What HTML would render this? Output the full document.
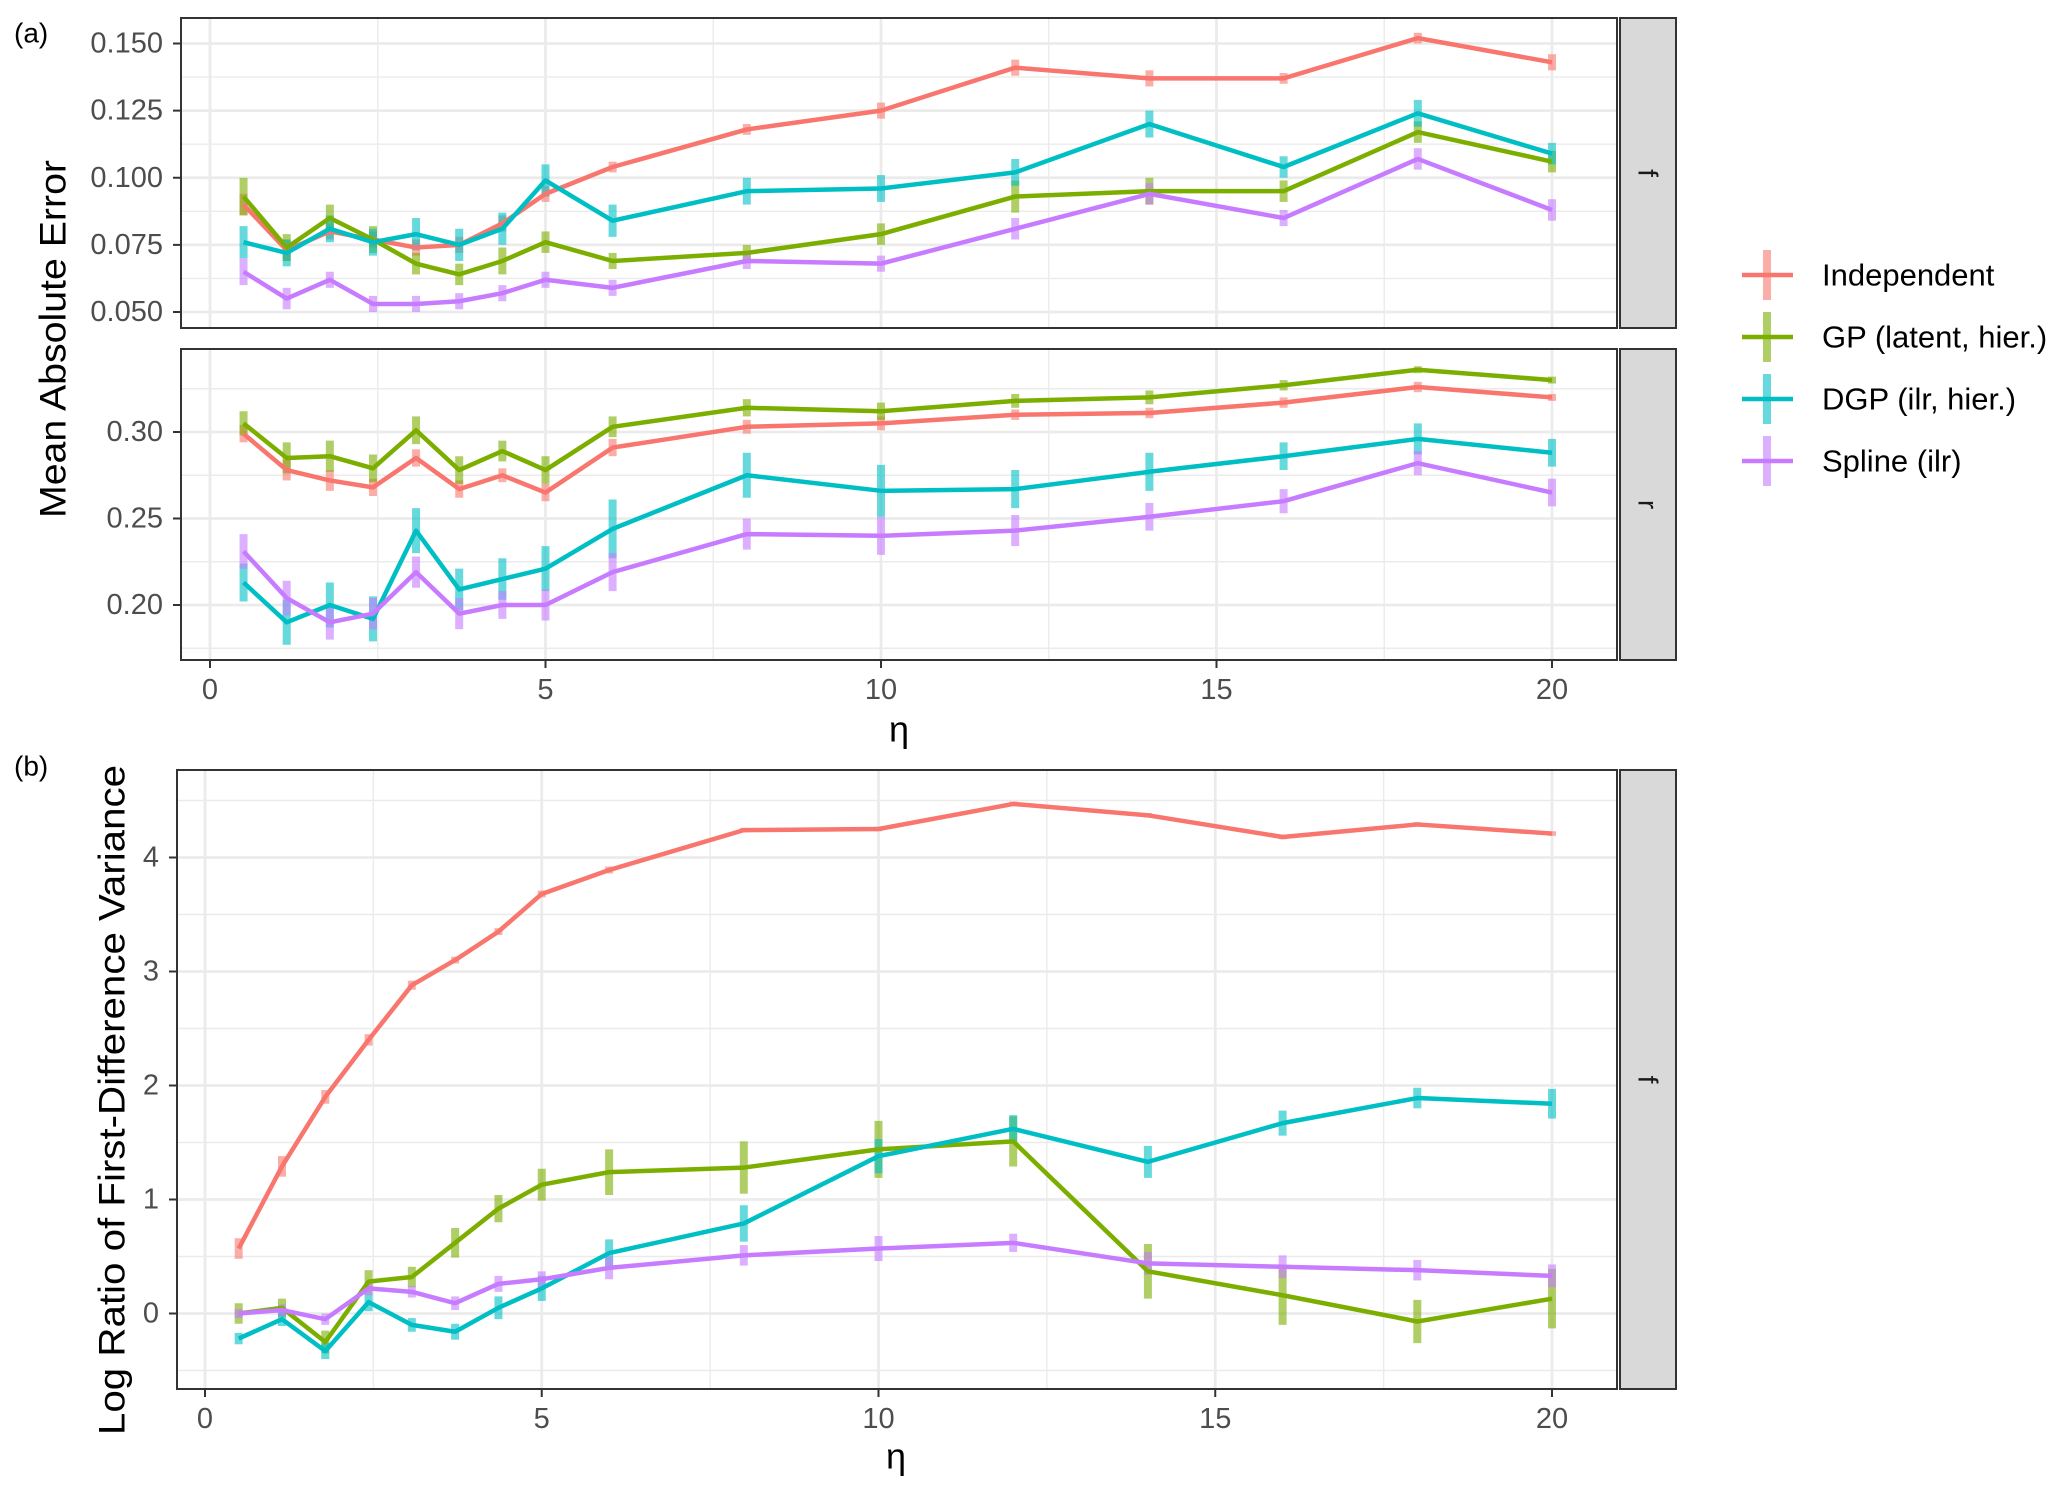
<!DOCTYPE html>
<html><head><meta charset="utf-8"><style>
html,body{margin:0;padding:0;background:#fff;}
svg{display:block;font-family:"Liberation Sans",sans-serif;}
</style></head><body>
<svg id="chart" width="2067" height="1490" viewBox="0 0 2067 1490" xmlns="http://www.w3.org/2000/svg"></svg>
<script>
const etaValues=[0.5,1.143,1.786,2.429,3.071,3.714,4.357,5,6,8,10,12,14,16,18,20];
const seriesNames=["Independent","GP (latent, hier.)","DGP (ilr, hier.)","Spline (ilr)"];
const seriesColors=["#F8766D","#7CAE00","#00BFC4","#C77CFF"];
// panel a, f
const fIndep=[0.090,0.073,0.080,0.077,0.074,0.075,0.083,0.094,0.104,0.118,0.125,0.141,0.137,0.137,0.152,0.143];
const fGP=[0.093,0.074,0.085,0.077,0.068,0.064,0.069,0.076,0.069,0.072,0.079,0.093,0.095,0.095,0.117,0.106];
const fDGP=[0.076,0.072,0.081,0.076,0.079,0.075,0.081,0.099,0.084,0.095,0.096,0.102,0.120,0.104,0.124,0.109];
const fSpline=[0.065,0.055,0.062,0.053,0.053,0.054,0.057,0.062,0.059,0.069,0.068,0.081,0.094,0.085,0.107,0.088];
const fErrIndep=[0.004,0.004,0.003,0.003,0.003,0.003,0.003,0.003,0.002,0.002,0.003,0.003,0.003,0.002,0.002,0.003];
const fErrGP=[0.007,0.005,0.005,0.005,0.004,0.004,0.005,0.004,0.003,0.003,0.004,0.006,0.005,0.004,0.004,0.004];
const fErrDGP=[0.006,0.005,0.005,0.005,0.006,0.006,0.006,0.006,0.006,0.005,0.005,0.005,0.005,0.004,0.005,0.004];
const fErrSpline=[0.005,0.004,0.003,0.003,0.003,0.003,0.003,0.003,0.003,0.003,0.003,0.004,0.004,0.003,0.004,0.004];
// panel a, r
const rIndep=[0.299,0.278,0.272,0.268,0.285,0.267,0.275,0.265,0.291,0.303,0.305,0.310,0.311,0.317,0.326,0.320];
const rGP=[0.305,0.285,0.286,0.279,0.301,0.278,0.289,0.278,0.303,0.314,0.312,0.318,0.320,0.327,0.336,0.330];
const rDGP=[0.213,0.190,0.200,0.192,0.243,0.209,0.215,0.221,0.244,0.275,0.266,0.267,0.277,0.286,0.296,0.288];
const rSpline=[0.231,0.204,0.190,0.195,0.219,0.195,0.200,0.200,0.219,0.241,0.240,0.243,0.251,0.260,0.282,0.265];
const rErrIndep=[0.005,0.006,0.006,0.005,0.005,0.005,0.004,0.005,0.005,0.004,0.004,0.003,0.003,0.003,0.003,0.002];
const rErrGP=[0.007,0.009,0.009,0.008,0.008,0.008,0.006,0.008,0.006,0.005,0.005,0.004,0.004,0.003,0.002,0.002];
const rErrDGP=[0.011,0.013,0.013,0.013,0.013,0.012,0.012,0.013,0.017,0.013,0.015,0.011,0.011,0.008,0.009,0.008];
const rErrSpline=[0.010,0.010,0.010,0.009,0.009,0.009,0.008,0.009,0.011,0.009,0.011,0.009,0.008,0.007,0.007,0.008];
// panel b
const bIndep=[0.57,1.29,1.90,2.40,2.88,3.10,3.35,3.68,3.89,4.24,4.25,4.47,4.37,4.18,4.29,4.21];
const bGP=[0.00,0.05,-0.25,0.28,0.32,0.62,0.92,1.13,1.24,1.28,1.44,1.51,0.37,0.16,-0.07,0.13];
const bDGP=[-0.22,-0.05,-0.33,0.10,-0.10,-0.16,0.05,0.22,0.53,0.79,1.38,1.62,1.33,1.67,1.89,1.84];
const bSpline=[0.00,0.03,-0.05,0.22,0.19,0.09,0.26,0.30,0.40,0.51,0.57,0.62,0.44,0.41,0.38,0.33];
const bErrIndep=[0.09,0.09,0.06,0.05,0.04,0.03,0.03,0.03,0.03,0.02,0.02,0.02,0.02,0.02,0.02,0.02];
const bErrGP=[0.09,0.08,0.10,0.10,0.09,0.13,0.12,0.14,0.20,0.23,0.25,0.22,0.24,0.26,0.19,0.26];
const bErrDGP=[0.05,0.06,0.07,0.08,0.06,0.07,0.10,0.11,0.12,0.16,0.15,0.12,0.14,0.11,0.09,0.13];
const bErrSpline=[0.04,0.05,0.05,0.06,0.05,0.06,0.07,0.07,0.10,0.09,0.11,0.08,0.10,0.10,0.09,0.10];
const xTicks=[0,5,10,15,20];
const fTicks=[0.050,0.075,0.100,0.125,0.150];
const fTickLabels=["0.050","0.075","0.100","0.125","0.150"];
const rTicks=[0.20,0.25,0.30];
const rTickLabels=["0.20","0.25","0.30"];
const bTicks=[0,1,2,3,4];
const bTickLabels=["0","1","2","3","4"];

const NS="http://www.w3.org/2000/svg";
const svg=document.getElementById('chart');
function mk(tag,attrs,parent,text){const e=document.createElementNS(NS,tag);for(const k in attrs)e.setAttribute(k,attrs[k]);if(text!==undefined)e.textContent=text;(parent||svg).appendChild(e);return e;}

function panel(o){
  const g=mk('g',{});
  
  
  const xs=v=>o.x0+(v-0)*(o.x20-o.x0)/20;
  const ys=v=>o.yA+(v-o.vA)*(o.yB-o.yA)/(o.vB-o.vA);
  const vTop=o.vA+(o.top-o.yA)*(o.vB-o.vA)/(o.yB-o.yA);
  mk('rect',{x:o.left,y:o.top,width:o.right-o.left,height:o.bottom-o.top,fill:'#fff'},g);
  const step=o.ticks[1]-o.ticks[0];
  for(let v=o.ticks[0]-step*3;v<=vTop+step;v+=step/2){
    const y=ys(v); if(y<o.top||y>o.bottom)continue;
    const major=o.ticks.some(t=>Math.abs(t-v)<1e-9);
    mk('line',{x1:o.left,x2:o.right,y1:y,y2:y,stroke:'#ebebeb','stroke-width':major?2.8:1.4},g);
  }
  for(let v=-2.5;v<=22.5;v+=2.5){
    const x=xs(v); if(x<o.left||x>o.right)continue;
    const major=Math.abs(v%5)<1e-9;
    mk('line',{x1:x,x2:x,y1:o.top,y2:o.bottom,stroke:'#ebebeb','stroke-width':major?2.8:1.4},g);
  }
  o.series.forEach((s,i)=>{
    s.vals.forEach((v,j)=>{
      const b=mk('line',{x1:xs(etaValues[j]),x2:xs(etaValues[j]),y1:ys(v-s.err[j]),y2:ys(v+s.err[j]),stroke:seriesColors[i],'stroke-width':8,'stroke-opacity':0.6},g);
      
      
    });
  });
  o.series.forEach((s,i)=>{
    const p=mk('polyline',{points:s.vals.map((v,j)=>xs(etaValues[j])+','+ys(v)).join(' '),fill:'none',stroke:seriesColors[i],'stroke-width':4.5,'stroke-linejoin':'round'},g);
    
    
  });
  mk('rect',{x:o.left,y:o.top,width:o.right-o.left,height:o.bottom-o.top,fill:'none',stroke:'#333','stroke-width':2},g);
  const st=mk('rect',{x:o.right+3,y:o.top,width:56,height:o.bottom-o.top,fill:'#d9d9d9',stroke:'#333','stroke-width':2},g);
  
  
  const cx=o.right+31,cy=(o.top+o.bottom)/2;
  const stx=mk('text',{x:cx,y:cy,'font-size':28,fill:'#1a1a1a','text-anchor':'middle','dominant-baseline':'central',transform:`rotate(90 ${cx} ${cy})`},g,o.strip);
  
  
  o.ticks.forEach((t,i)=>{
    const y=ys(t);
    mk('line',{x1:o.left-8,x2:o.left,y1:y,y2:y,stroke:'#333','stroke-width':2},g);
    const tl=mk('text',{x:o.left-18,y:y,'font-size':29,fill:'#4d4d4d','text-anchor':'end','dominant-baseline':'central'},g,o.tickLabels[i]);
    
    
  });
  if(o.xAxis){
    xTicks.forEach(t=>{
      const x=xs(t);
      mk('line',{x1:x,x2:x,y1:o.bottom,y2:o.bottom+8,stroke:'#333','stroke-width':2},g);
      const tl=mk('text',{x:x,y:o.bottom+30,'font-size':29,fill:'#4d4d4d','text-anchor':'middle','dominant-baseline':'central'},g,String(t));
      
      
    });
  }
}

panel({name:'panel-a-f',left:181,right:1617,top:18,bottom:328,x0:210,x20:1552,vA:0.150,yA:43.5,vB:0.050,yB:312,ticks:fTicks,tickLabels:fTickLabels,strip:'f',xAxis:false,
  series:[{vals:fIndep,err:fErrIndep},{vals:fGP,err:fErrGP},{vals:fDGP,err:fErrDGP},{vals:fSpline,err:fErrSpline}]});
panel({name:'panel-a-r',left:181,right:1617,top:349,bottom:660,x0:210,x20:1552,vA:0.30,yA:432,vB:0.20,yB:605,ticks:rTicks,tickLabels:rTickLabels,strip:'r',xAxis:true,
  series:[{vals:rIndep,err:rErrIndep},{vals:rGP,err:rErrGP},{vals:rDGP,err:rErrDGP},{vals:rSpline,err:rErrSpline}]});
panel({name:'panel-b',left:177,right:1617,top:770,bottom:1389,x0:205,x20:1552,vA:0,yA:1313.5,vB:4,yB:857.5,ticks:bTicks,tickLabels:bTickLabels,strip:'f',xAxis:true,
  series:[{vals:bIndep,err:bErrIndep},{vals:bGP,err:bErrGP},{vals:bDGP,err:bErrDGP},{vals:bSpline,err:bErrSpline}]});

function label(txt,attrs,name){const t=mk('text',attrs,svg,txt);return t;}
label('(a)',{x:14,y:33,'font-size':28,fill:'#000','dominant-baseline':'central'},'panel-a-label');
label('(b)',{x:14,y:766,'font-size':28,fill:'#000','dominant-baseline':'central'},'panel-b-label');
label('Mean Absolute Error',{x:53,y:339,'font-size':37,fill:'#000','text-anchor':'middle','dominant-baseline':'central',transform:'rotate(-90 53 339)',textLength:358,lengthAdjust:'spacingAndGlyphs'},'y-axis-title-a');
label('Log Ratio of First-Difference Variance',{x:112,y:1100,'font-size':37,fill:'#000','text-anchor':'middle','dominant-baseline':'central',transform:'rotate(-90 112 1100)',textLength:670,lengthAdjust:'spacingAndGlyphs'},'y-axis-title-b');
label('η',{x:899,y:729,'font-size':36,fill:'#000','text-anchor':'middle','dominant-baseline':'central'},'x-axis-title-a');
label('η',{x:896,y:1456,'font-size':36,fill:'#000','text-anchor':'middle','dominant-baseline':'central'},'x-axis-title-b');

const legendY=[275,337,399,461];
seriesNames.forEach((n,i)=>{
  const g=mk('g',{});
  
  
  mk('line',{x1:1767,x2:1767,y1:legendY[i]-25,y2:legendY[i]+25,stroke:seriesColors[i],'stroke-width':8,'stroke-opacity':0.6},g);
  mk('line',{x1:1742,x2:1793,y1:legendY[i],y2:legendY[i],stroke:seriesColors[i],'stroke-width':4.5},g);
  mk('text',{x:1822,y:legendY[i],'font-size':31,fill:'#000','dominant-baseline':'central'},g,n);
});
</script>
</body></html>
